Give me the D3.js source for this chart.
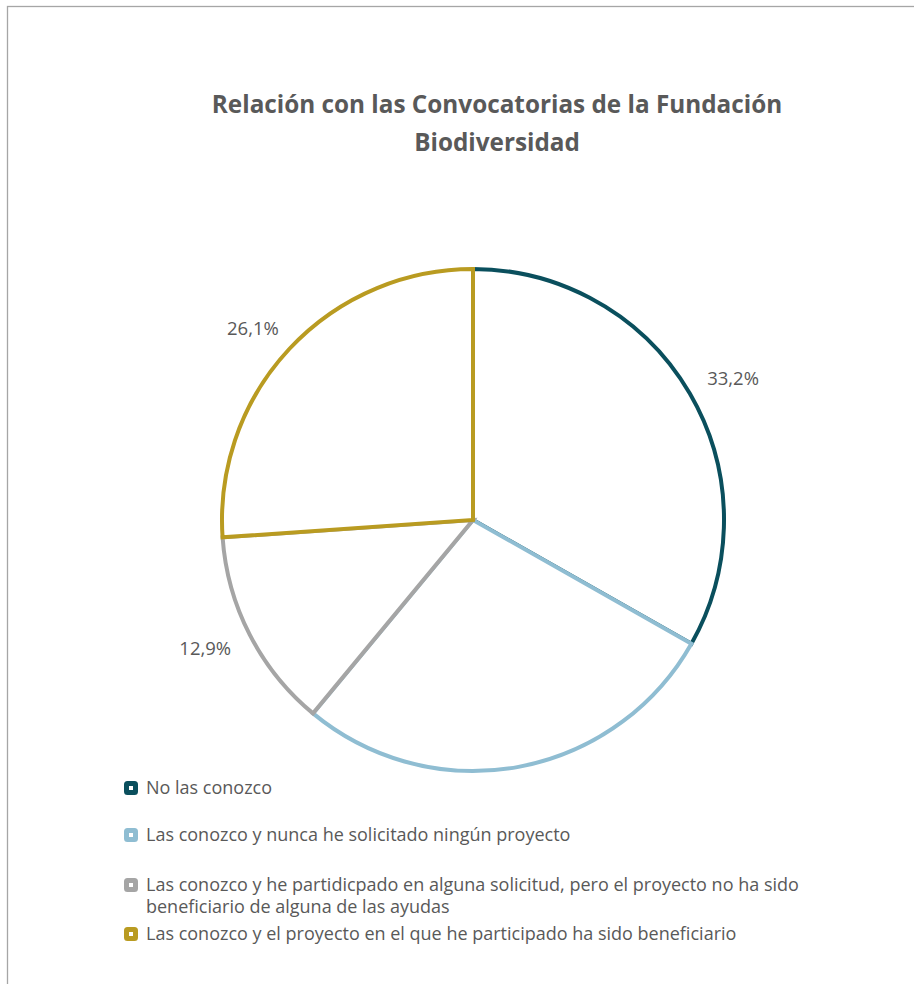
<!DOCTYPE html>
<html>
<head>
<meta charset="utf-8">
<script src="https://cdn.jsdelivr.net/npm/d3@7"></script>
<style>
  body { margin: 0; background: #fff; }
  svg text { font-family: "Open Sans", sans-serif; fill: #595959; }
</style>
</head>
<body>
<svg id="chart" width="914" height="984"></svg>
<script>
let categories = ['No las conozco',
                  'Las conozco y nunca he solicitado ningún proyecto',
                  'Las conozco y he partidicpado en alguna solicitud, pero el proyecto no ha sido beneficiario de alguna de las ayudas',
                  'Las conozco y el proyecto en el que he participado ha sido beneficiario'];
let values = [33.2, 27.8, 12.9, 26.1];
let dataLabels = ['33,2%', '', '12,9%', '26,1%'];
let colors = ['#0a4f5d', '#8fbdd2', '#a5a5a5', '#b99b21'];
let legendLines = [['No las conozco'],
                   ['Las conozco y nunca he solicitado ningún proyecto'],
                   ['Las conozco y he partidicpado en alguna solicitud, pero el proyecto no ha sido', 'beneficiario de alguna de las ayudas'],
                   ['Las conozco y el proyecto en el que he participado ha sido beneficiario']];

let svg = d3.select('#chart');

// chart area border
svg.append('rect')
   .attr('x', 7.5).attr('y', 6.5)
   .attr('width', 940).attr('height', 1000)
   .attr('fill', 'none')
   .attr('stroke', '#a6a6a6')
   .attr('stroke-width', 1.3);

// title
let title = svg.append('text')
   .attr('text-anchor', 'middle')
   .style('font-size', '24.3px')
   .style('font-weight', 'bold');
title.append('tspan').attr('x', 497).attr('y', 113).text('Relación con las Convocatorias de la Fundación');
title.append('tspan').attr('x', 497).attr('y', 151).text('Biodiversidad');

let cx = 473, cy = 520, r = 251;
let pie = d3.pie().sort(null).value(d => d);
let arcs = pie(values);
let arc = d3.arc().innerRadius(0).outerRadius(r);

let g = svg.append('g').attr('transform', 'translate(' + cx + ',' + cy + ')');

g.selectAll('path')
 .data(arcs)
 .enter()
 .append('path')
 .attr('d', arc)
 .attr('fill', '#fff')
 .attr('stroke', (d, i) => colors[i])
 .attr('stroke-width', 4)
 .attr('stroke-linejoin', 'miter');

// outside-end labels: push the label box out along the slice's middle angle
function labelPos(d) {
  let a = (d.startAngle + d.endAngle) / 2;
  let sx = Math.sin(a), sy = -Math.cos(a);
  return [(r + 20 + 30) * sx, (r + 20 + 10) * sy];
}

g.selectAll('.lbl')
 .data(arcs)
 .enter()
 .append('text')
 .attr('class', 'lbl')
 .attr('text-anchor', 'middle')
 .attr('dy', '0.35em')
 .style('font-size', '18.5px')
 .attr('transform', d => 'translate(' + labelPos(d) + ')')
 .text((d, i) => dataLabels[i]);

// legend
let legendY = [788, 835, 885, 934];
let legend = svg.selectAll('.legend')
   .data(categories)
   .enter()
   .append('g')
   .attr('class', 'legend')
   .attr('transform', (d, i) => 'translate(131,' + legendY[i] + ')');

legend.append('rect')
   .attr('x', -4.5).attr('y', -4.5)
   .attr('width', 9).attr('height', 9)
   .attr('rx', 1)
   .attr('fill', '#fff')
   .attr('stroke', (d, i) => colors[i])
   .attr('stroke-width', 5);

legend.append('text')
   .attr('x', 15)
   .attr('y', 6)
   .style('font-size', '18px')
   .selectAll('tspan')
   .data((d, i) => legendLines[i])
   .enter()
   .append('tspan')
   .attr('x', 15)
   .attr('dy', (d, j) => j === 0 ? 0 : 22)
   .text(d => d);
</script>
</body>
</html>
